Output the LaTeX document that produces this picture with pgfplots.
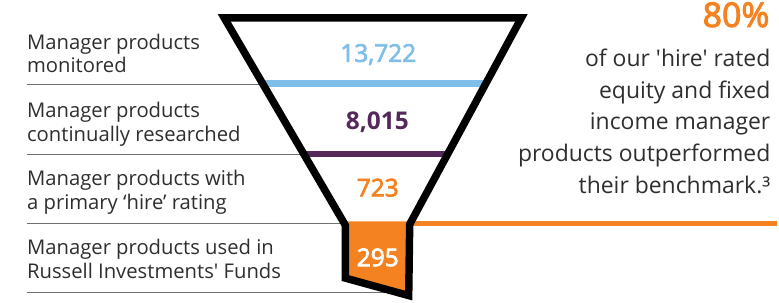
\documentclass[border=0pt]{standalone}
\usepackage{fontspec}
\setmainfont{Open Sans}
\newfontfamily\semib{Open Sans}[FakeBold=3]
\usepackage{pgfplots}
\pgfplotsset{compat=1.18}
\definecolor{fblue}{HTML}{7FBEE9}
\definecolor{fpurple}{HTML}{55285A}
\definecolor{forange}{HTML}{F58220}
\definecolor{ftext}{HTML}{2E2E2E}
\definecolor{fgray}{HTML}{707070}
\begin{document}
\begin{tikzpicture}
\begin{axis}[width=779pt,height=303pt,scale only axis,
  xmin=0,xmax=779,ymin=0,ymax=303,y dir=reverse,hide axis,clip=false]
\addplot[draw=none] coordinates {(0,0) (779,303)};
% grey separators
\addplot[fgray,line width=1.2pt] coordinates {(27,85) (263,85)};
\addplot[fgray,line width=1.2pt] coordinates {(27,155) (305,155)};
\addplot[fgray,line width=1.2pt] coordinates {(27,224) (346,224)};
\addplot[fgray,line width=1.2pt] coordinates {(27,293.5) (398,293.5)};
% stage lines
\addplot[fblue,line width=7.5pt] coordinates {(263,84) (488,84)};
\addplot[fpurple,line width=7pt] coordinates {(304,154.5) (450,154.5)};
% spout fill
\addplot[fill=forange,draw=none] coordinates {(346.5,222) (411,222) (410,296) (346.5,279)} -- cycle;
\addplot[forange,line width=5pt] coordinates {(408,224) (779,224)};
% funnel outline
\addplot[black,line width=7.5pt,line join=miter] coordinates {(225,18) (523,18) (411,225) (410,296.5) (346.5,279) (346.5,226) (225,18)} -- cycle;
% numbers
\node[anchor=base,inner sep=0,text=fblue,font=\fontsize{24.5}{28}\semib] at (axis cs:379.5,62) {13,722};
\node[anchor=base,inner sep=0,text=fpurple,font=\fontsize{24.5}{28}\selectfont\bfseries] at (axis cs:378.5,130) {8,015};
\node[anchor=base,inner sep=0,text=forange,font=\fontsize{24.5}{28}\semib] at (axis cs:379,197) {723};
\node[anchor=base,inner sep=0,text=white,font=\fontsize{24.5}{28}\semib] at (axis cs:379,267) {295};
% left labels
\tikzset{lab/.style={anchor=base west,inner sep=0,text=ftext,font=\fontsize{20.3}{24}\selectfont}}
\node[lab] at (axis cs:27,50) {Manager products};
\node[lab] at (axis cs:27,73) {monitored};
\node[lab] at (axis cs:27,118) {Manager products};
\node[lab] at (axis cs:27,142) {continually researched};
\node[lab] at (axis cs:27,186) {Manager products with};
\node[lab] at (axis cs:27,210) {a primary `hire' rating};
\node[lab] at (axis cs:27,255) {Manager products used in};
\node[lab] at (axis cs:27,279) {Russell Investments\textquotesingle{} Funds};
% right text
\node[anchor=base east,inner sep=0,text=forange,font=\fontsize{34}{38}\semib] at (axis cs:772,27) {80\%};
\tikzset{rt/.style={anchor=base east,inner sep=0,text=ftext,font=\fontsize{23}{28}\selectfont}}
\node[rt] at (axis cs:773,67) {of our \textquotesingle hire\textquotesingle{} rated};
\node[rt] at (axis cs:773,99) {equity and fixed};
\node[rt] at (axis cs:773,130) {income manager};
\node[rt] at (axis cs:773,162) {products outperformed};
\node[rt] at (axis cs:773,194) {their benchmark.³};
\end{axis}
\end{tikzpicture}
\end{document}
